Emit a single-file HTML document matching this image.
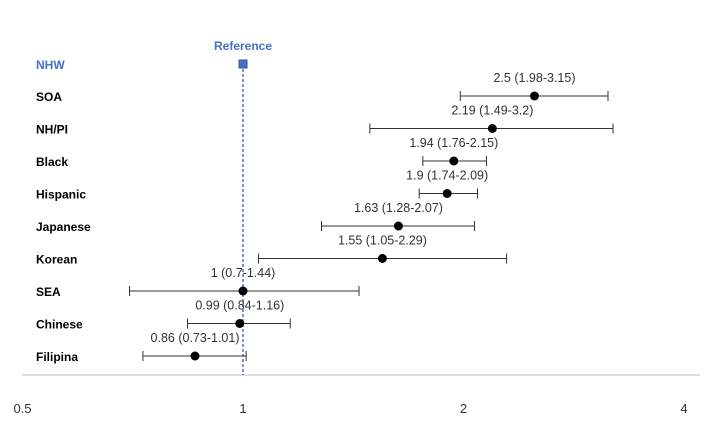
<!DOCTYPE html>
<html><head><meta charset="utf-8"><style>
body{margin:0;background:#fff}
svg{display:block;font-family:"Liberation Sans",sans-serif}
</style></head><body>
<svg id="chart" width="723" height="424"></svg>
<script>
const groups=["SOA","NH/PI","Black","Hispanic","Japanese","Korean","SEA","Chinese","Filipina"];
const estimates=[2.5,2.19,1.94,1.9,1.63,1.55,1,0.99,0.86];
const lowers=[1.98,1.49,1.76,1.74,1.28,1.05,0.7,0.84,0.73];
const uppers=[3.15,3.2,2.15,2.09,2.07,2.29,1.44,1.16,1.01];
const ticks=[0.5,1,2,4];
const ns="http://www.w3.org/2000/svg";
const svg=document.getElementById('chart');
function xs(v){return 243+220.5*Math.log2(v);}
function ys(i){return 96+i*32.5;}
function mk(t,a,txt){const e=document.createElementNS(ns,t);for(const k in a)e.setAttribute(k,a[k]);if(txt!==undefined)e.textContent=txt;svg.appendChild(e);return e;}
let e;
e=mk('line',{x1:22,x2:700,y1:375,y2:375,stroke:'#bfbfbf','stroke-width':1});


ticks.forEach(t=>{
 e=mk('text',{x:xs(t),y:413,'text-anchor':'middle','font-size':13,fill:'#333'},String(t));
 
 
});
e=mk('line',{x1:xs(1),x2:xs(1),y1:64,y2:375,stroke:'#2f5fb5','stroke-width':1.3,'stroke-dasharray':'3,2'});


e=mk('text',{x:xs(1),y:50,'text-anchor':'middle','font-size':12,'font-weight':'bold',fill:'#4472c4'},'Reference');


e=mk('rect',{x:xs(1)-4,y:60,width:8,height:8,fill:'#4472c4',stroke:'#2f5597'});


e=mk('text',{x:36,y:69,'font-size':12,'font-weight':'bold',fill:'#4472c4'},'NHW');


groups.forEach((g,i)=>{
 const y=ys(i),x=xs(estimates[i]),x1=xs(lowers[i]),x2=xs(uppers[i]);
 e=mk('text',{x:36,y:y+5,'font-size':12,'font-weight':'bold',fill:'#000'},g);
 
 
 e=mk('path',{d:`M${x1},${y}H${x2}M${x1},${y-5}V${y+5}M${x2},${y-5}V${y+5}`,stroke:'#333','stroke-width':1,fill:'none'});
 
 
 e=mk('circle',{cx:x,cy:y,r:4.5,fill:'#000'});
 
 
 e=mk('text',{x:x,y:y-14,'text-anchor':'middle','font-size':12.5,fill:'#333'},`${estimates[i]} (${lowers[i]}-${uppers[i]})`);
 
 
});
</script>
</body></html>
